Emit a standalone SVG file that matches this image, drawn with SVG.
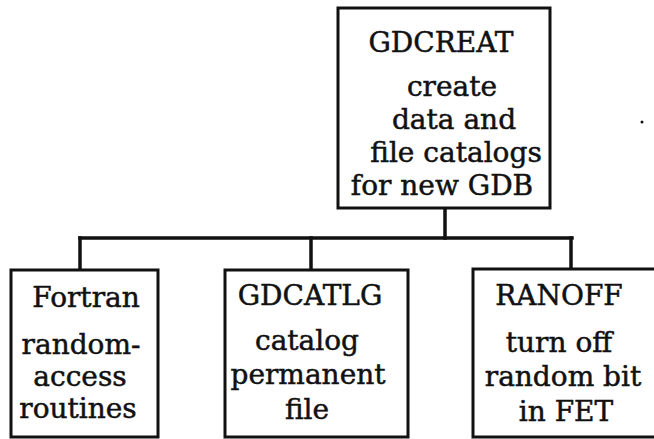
<svg xmlns="http://www.w3.org/2000/svg" width="654" height="439" viewBox="0 0 654 439">
  <style>
    .box { fill: #ffffff; stroke: #111111; stroke-width: 3; }
    .wire { fill: none; stroke: #111111; stroke-width: 3.5; stroke-linecap: square; }
    text { font-family: "DejaVu Serif", "Liberation Serif", serif; font-size: 28px; fill: #111111; stroke: #111111; stroke-width: 0.5; text-anchor: middle; }
  </style>
  <rect width="654" height="439" fill="#ffffff"/>

  <!-- tree connectors -->
  <g id="connectors">
    <path class="wire" d="M445 208 V238"/>
    <path class="wire" d="M80 238 H572"/>
    <path class="wire" d="M80 238 V270"/>
    <path class="wire" d="M311 238 V270"/>
    <path class="wire" d="M571 238 V269"/>
  </g>

  <!-- root routine -->
  <g id="gdcreat">
    <rect class="box" x="338" y="8" width="212" height="200"/>
    <text x="441" y="52">GDCREAT</text>
    <text x="452" y="96">create</text>
    <text x="454" y="129">data and</text>
    <text x="456" y="162">file catalogs</text>
    <text x="442" y="195">for new GDB</text>
  </g>

  <!-- called routines -->
  <g id="fortran">
    <rect class="box" x="11" y="270" width="147" height="167"/>
    <text x="86" y="307">Fortran</text>
    <text x="81" y="354">random-</text>
    <text x="80" y="386">access</text>
    <text x="78" y="418">routines</text>
  </g>

  <g id="gdcatlg">
    <rect class="box" x="225" y="270" width="183" height="167"/>
    <text x="310" y="305">GDCATLG</text>
    <text x="307" y="350">catalog</text>
    <text x="308" y="384">permanent</text>
    <text x="307" y="419">file</text>
  </g>

  <g id="ranoff">
    <rect class="box" x="473" y="269" width="190" height="168"/>
    <text x="559" y="305">RANOFF</text>
    <text x="559" y="352">turn off</text>
    <text x="563" y="386">random bit</text>
    <text x="566" y="421">in FET</text>
  </g>

  <circle cx="642" cy="122" r="1.5" fill="#111111"/>
</svg>
